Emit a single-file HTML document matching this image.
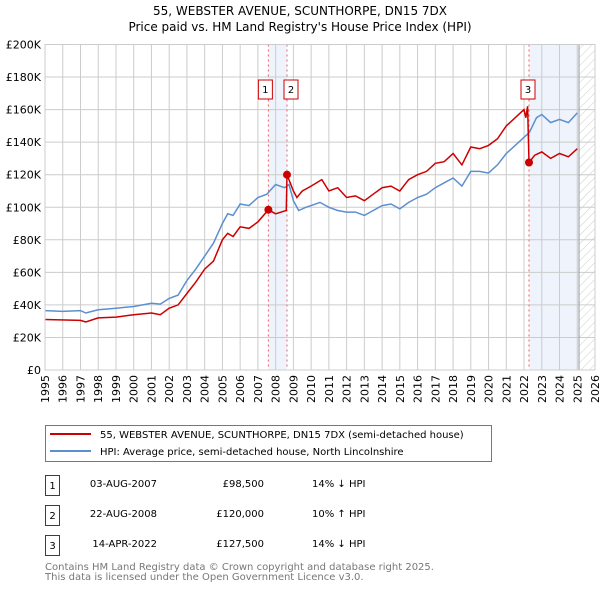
<!DOCTYPE html>
<html><head><meta charset="utf-8"><style>
body{margin:0;background:#fff;font-family:"DejaVu Sans","Liberation Sans",sans-serif;}
svg{display:block}
</style></head><body>
<svg id="c" width="600" height="590" xmlns="http://www.w3.org/2000/svg" font-family="DejaVu Sans, Liberation Sans, sans-serif">
<text x="300" y="15" text-anchor="middle" font-size="12">55, WEBSTER AVENUE, SCUNTHORPE, DN15 7DX</text>
<text x="300" y="31" text-anchor="middle" font-size="12">Price paid vs. HM Land Registry's House Price Index (HPI)</text>
<g id="plot"></g>
<g>
<rect x="45.5" y="425.5" width="446" height="36" fill="#fff" stroke="#777"/>
<line x1="50" y1="434" x2="91" y2="434" stroke="#cc0000" stroke-width="2"/>
<text x="100" y="438" font-size="10">55, WEBSTER AVENUE, SCUNTHORPE, DN15 7DX (semi-detached house)</text>
<line x1="50" y1="451" x2="91" y2="451" stroke="#5b8fd0" stroke-width="2"/>
<text x="100" y="455" font-size="10">HPI: Average price, semi-detached house, North Lincolnshire</text>
</g>
<g font-size="10">
<g><rect x="45.5" y="475.5" width="14" height="20" fill="none" stroke="#cc0000"/><text x="52.5" y="489" text-anchor="middle">1</text><text x="157" y="487" text-anchor="end">03-AUG-2007</text><text x="264" y="487" text-anchor="end">£98,500</text><text x="312" y="487">14% ↓ HPI</text></g>
<g><rect x="45.5" y="505.5" width="14" height="20" fill="none" stroke="#cc0000"/><text x="52.5" y="519" text-anchor="middle">2</text><text x="157" y="517" text-anchor="end">22-AUG-2008</text><text x="264" y="517" text-anchor="end">£120,000</text><text x="312" y="517">10% ↑ HPI</text></g>
<g><rect x="45.5" y="535.5" width="14" height="20" fill="none" stroke="#cc0000"/><text x="52.5" y="549" text-anchor="middle">3</text><text x="157" y="547" text-anchor="end">14-APR-2022</text><text x="264" y="547" text-anchor="end">£127,500</text><text x="312" y="547">14% ↓ HPI</text></g>
</g>
<text x="45" y="570" font-size="10" fill="#777">Contains HM Land Registry data © Crown copyright and database right 2025.</text>
<text x="45" y="580" font-size="10" fill="#777">This data is licensed under the Open Government Licence v3.0.</text>
</svg>
<script>
const hpiYears=[1995,1996,1997,1997.3,1998,1999,2000,2001,2001.5,2002,2002.5,2003,2003.5,2004,2004.5,2005,2005.3,2005.6,2006,2006.5,2007,2007.5,2008,2008.5,2008.75,2009,2009.3,2009.7,2010,2010.5,2011,2011.5,2012,2012.5,2013,2013.5,2014,2014.5,2015,2015.5,2016,2016.5,2017,2017.5,2018,2018.5,2019,2019.5,2020,2020.5,2021,2021.5,2022,2022.3,2022.7,2023,2023.5,2024,2024.5,2025];
const hpiValues=[36.5,36,36.5,35,37,38,39,41,40.5,44,46,55,62,70,78,90,96,95,102,101,106,108,114,112,114,104,98,100,101,103,100,98,97,97,95,98,101,102,99,103,106,108,112,115,118,113,122,122,121,126,133,138,143,146,155,157,152,154,152,158];
const propYears=[1995,1997,1997.3,1998,1999,2000,2001,2001.5,2002,2002.5,2003,2003.5,2004,2004.5,2005,2005.3,2005.6,2006,2006.5,2007,2007.59,2008,2008.6,2008.64,2009,2009.2,2009.5,2010,2010.6,2011,2011.5,2012,2012.5,2013,2013.5,2014,2014.5,2015,2015.5,2016,2016.5,2017,2017.5,2018,2018.5,2019,2019.5,2020,2020.5,2021,2021.5,2022,2022.1,2022.2,2022.28,2022.6,2023,2023.5,2024,2024.5,2025];
const propValues=[31,30.5,29.5,32,32.5,34,35,34,38,40,47,54,62,67,80,84,82,88,87,91,98.5,96,98,120,110,106,110,113,117,110,112,106,107,104,108,112,113,110,117,120,122,127,128,133,126,137,136,138,142,150,155,160,155,162,127.5,132,134,130,133,131,136];
const saleYears=[2007.59,2008.64,2022.28];
const saleValues=[98.5,120,127.5];
const saleLabels=["1","2","3"];
const yTicks=[0,20,40,60,80,100,120,140,160,180,200];
const xTicks=[1995,1996,1997,1998,1999,2000,2001,2002,2003,2004,2005,2006,2007,2008,2009,2010,2011,2012,2013,2014,2015,2016,2017,2018,2019,2020,2021,2022,2023,2024,2025,2026];
const X0=45,X1=595,Y0=370,Y1=44.5;
const xs=y=>X0+(y-1995)/(2026-1995)*(X1-X0);
const ys=v=>Y0-v/200*(Y0-Y1);
const NS="http://www.w3.org/2000/svg";
const g=document.getElementById('plot');
function mk(t,a,p){const e=document.createElementNS(NS,t);for(const k in a)e.setAttribute(k,a[k]);(p||g).appendChild(e);return e;}
// shading
let r=mk('rect',{x:xs(2007.59),y:Y1,width:xs(2008.64)-xs(2007.59),height:Y0-Y1,fill:'#eef3fc'});


r=mk('rect',{x:xs(2022.28),y:Y1,width:xs(2025.1)-xs(2022.28),height:Y0-Y1,fill:'#eef3fc'});


// hatch
const defs=mk('defs',{});
const pat=mk('pattern',{id:'h',width:6,height:6,patternUnits:'userSpaceOnUse',patternTransform:'rotate(45)'},defs);
mk('line',{x1:0,y1:0,x2:0,y2:6,stroke:'#ccc','stroke-width':1},pat);
r=mk('rect',{x:xs(2025.1),y:Y1,width:X1-xs(2025.1),height:Y0-Y1,fill:'url(#h)'});


// grid
yTicks.forEach(v=>{
 const l=mk('line',{x1:X0,x2:X1,y1:ys(v),y2:ys(v),stroke:'#ccc'});
 
 
 const t=mk('text',{x:X0-4,y:ys(v)+4,'text-anchor':'end','font-size':11});
 t.textContent='£'+(v===0?'0':v+'K');
 
 
});
xTicks.forEach(y=>{
 const l=mk('line',{x1:xs(y),x2:xs(y),y1:Y1,y2:Y0,stroke:'#ccc'});
 
 
 const t=mk('text',{x:0,y:0,'text-anchor':'end','font-size':11,transform:`translate(${xs(y)+4},${Y0+5}) rotate(-90)`});
 t.textContent=y;
 
 
});
r=mk('line',{x1:xs(2025.1),x2:xs(2025.1),y1:Y1,y2:Y0,stroke:'#999'});


// vlines
saleYears.forEach(y=>{
 const l=mk('line',{x1:xs(y),x2:xs(y),y1:Y1,y2:Y0,stroke:'#f06060','stroke-dasharray':'2,3'});
 
 
});
function path(xa,va,col,name){
 const p=mk('path',{d:xa.map((x,i)=>(i?'L':'M')+xs(x).toFixed(1)+','+ys(va[i]).toFixed(1)).join(''),fill:'none',stroke:col,'stroke-width':1.5});
 
 
}
path(hpiYears,hpiValues,'#5b8fd0','hpi-line');
path(propYears,propValues,'#cc0000','property-price-line');
saleYears.forEach((y,i)=>{
 const c=mk('circle',{cx:xs(y),cy:ys(saleValues[i]),r:4,fill:'#cc0000'});
 
 
 const off=i===0?-3:(i===1?4:-1);
 const bx=xs(y)+off-7;
 const b=mk('rect',{x:bx,y:80,width:14,height:19,fill:'#fff',stroke:'#cc0000'});
 
 
 const t=mk('text',{x:bx+7,y:93,'text-anchor':'middle','font-size':10});
 t.textContent=saleLabels[i];
 
 
});
r=mk('rect',{x:X0,y:Y1,width:X1-X0,height:Y0-Y1,fill:'none',stroke:'#ccc'});


</script>
</body></html>
